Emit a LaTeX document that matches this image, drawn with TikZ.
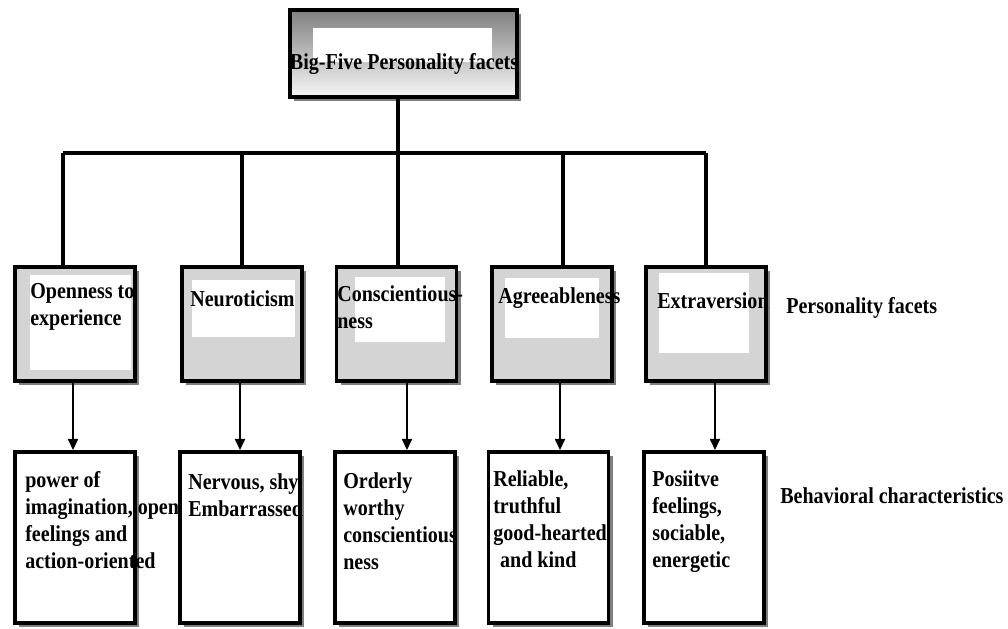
\documentclass[tikz,border=0pt]{standalone}
\usepackage{fontspec}
\setmainfont{Liberation Serif}[FakeStretch=0.88]
\usepackage{tikz}
\usetikzlibrary{shadows,arrows.meta,calc}

\begin{document}
\begin{tikzpicture}[x=0.025cm, y=-0.025cm,
  font=\fontsize{16.2pt}{19.2pt}\selectfont\bfseries,
  shade box/.style={drop shadow={shadow xshift=3pt, shadow yshift=-3pt, fill=black, opacity=0.5}},
  facet/.style={draw=black, line width=2.6pt, fill=black!17, minimum width=3cm, minimum height=2.85cm, shade box},
  behav/.style={draw=black, line width=2.6pt, fill=white, minimum width=3cm, minimum height=4.275cm, shade box},
  txt/.style={anchor=north west, align=left, inner sep=0pt},
  link/.style={line width=2.5pt},
  arr/.style={line width=1.7pt, -{Triangle[width=7pt, length=8pt]}}]
  \useasboundingbox (0,0) rectangle (1008,629);

%% top box
  \node[draw=black, line width=2.6pt, top color=black!50, bottom color=black!3, minimum width=5.675cm, minimum height=2.175cm, shade box] (top) at (403.5,53.5) {};
  \fill[white] (313,28) rectangle (492,62);
  \node (toptxt) at (404,64) {Big-Five Personality facets};

%% personality facets
  \node[facet] (openF) at (75,324) {};
  \node[facet] (neuF) at (242,324) {};
  \node[facet] (consF) at (396.5,324) {};
  \node[facet] (agrF) at (552,324) {};
  \node[facet] (extF) at (706,324) {};
  \fill[white] (30,275) rectangle (131,370);
  \fill[white] (192,280) rectangle (295,337);
  \fill[white] (355,277) rectangle (445,342);
  \fill[white] (505,278) rectangle (599,338);
  \fill[white] (659,273) rectangle (749,353);
  \node[txt] (openFt) at (30,283) {Openness to\\experience};
  \node[txt] (neuFt) at (190,290) {Neuroticism};
  \node[txt] (consFt) at (337,285) {Conscientious-\\ness};
  \node[txt] (agrFt) at (498,287) {Agreeableness};
  \node[txt] (extFt) at (657,292) {Extraversion};

%% behavioral characteristics
  \node[behav] (openB) at (75,537.5) {};
  \node[behav] (neuB) at (240,537.5) {};
  \node[behav] (consB) at (395,537.5) {};
  \node[behav] (agrB) at (548.5,537.5) {};
  \node[behav] (extB) at (704,537.5) {};
  \node[txt] (openBt) at (25,471) {power of\\imagination, open\\feelings and\\action-oriented};
  \node[txt] (neuBt) at (188,473) {Nervous, shy\\Embarrassed};
  \node[txt] (consBt) at (343,472) {Orderly\\worthy\\conscientious\\ness};
  \node[txt] (agrBt) at (493,470) {Reliable,\\truthful\\good-hearted\\\hspace*{0.3em}and kind};
  \node[txt] (extBt) at (652,470) {Posiitve\\feelings,\\sociable,\\energetic};

  \node[anchor=west, inner sep=0pt] (facetlbl) at (786,308) {Personality facets};
  \node[anchor=west, inner sep=0pt] (behavlbl) at (780,496) {Behavioral characteristics};

%% tree lines
  \coordinate (b1) at (63,153);
  \coordinate (b2) at (242,153);
  \coordinate (b3) at (398,153);
  \coordinate (b4) at (563,153);
  \coordinate (b5) at (706,153);
  \draw[link] (b3 |- top.south) -- (b3);
  \draw[link] (b1) -- (b5);
  \draw[link] (b1) -- (b1 |- openF.north);
  \draw[link] (b2) -- (b2 |- neuF.north);
  \draw[link] (b3) -- (b3 |- consF.north);
  \draw[link] (b4) -- (b4 |- agrF.north);
  \draw[link] (b5) -- (b5 |- extF.north);

%% arrows
  \coordinate (a1) at ($(openF.south)+(-2,0)$);
  \coordinate (a2) at ($(neuF.south)+(-2,0)$);
  \coordinate (a3) at ($(consF.south)+(10.5,0)$);
  \coordinate (a4) at ($(agrF.south)+(8,0)$);
  \coordinate (a5) at ($(extF.south)+(9,0)$);
  \draw[arr] (a1) -- (a1 |- openB.north);
  \draw[arr] (a2) -- (a2 |- neuB.north);
  \draw[arr] (a3) -- (a3 |- consB.north);
  \draw[arr] (a4) -- (a4 |- agrB.north);
  \draw[arr] (a5) -- (a5 |- extB.north);
\end{tikzpicture}
\end{document}
